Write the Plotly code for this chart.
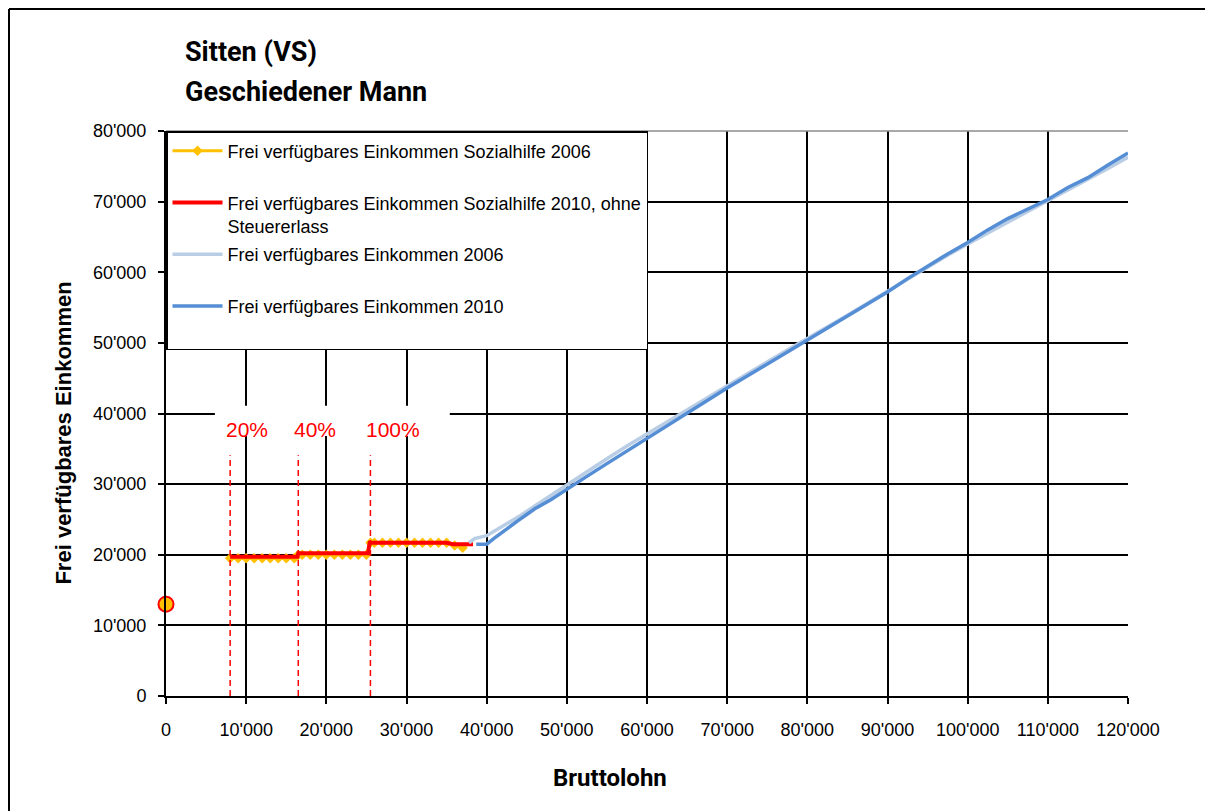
import plotly.graph_objects as go

# ---------------- data ----------------
# Frei verfügbares Einkommen Sozialhilfe 2006
x_sh06 = [8000, 9000, 10000, 11000, 12000, 13000, 14000, 15000, 16000, 16500,
          17000, 18000, 19000, 20000, 21000, 22000, 23000, 24000, 25000, 25500,
          26000, 27000, 28000, 29000, 30000, 31000, 32000, 33000, 34000, 35000,
          36000, 37000]
y_sh06 = [19500, 19500, 19500, 19500, 19500, 19500, 19500, 19500, 19500, 20000,
          20000, 20000, 20000, 20000, 20000, 20000, 20000, 20000, 20000, 21700,
          21700, 21700, 21700, 21700, 21700, 21700, 21700, 21700, 21700, 21700,
          21300, 21000]

# Frei verfügbares Einkommen Sozialhilfe 2010, ohne Steuererlass
x_sh10 = [8000, 16400, 16500, 25200, 25400, 35000, 35800, 38300]
y_sh10 = [19700, 19700, 20200, 20200, 21700, 21700, 21500, 21500]

# Frei verfügbares Einkommen 2006
x_fe06 = [37800, 38500, 40000, 42000, 44000, 46000, 48000, 50000, 52500, 55000,
          57500, 60000, 62500, 65000, 67500, 70000, 72500, 75000, 77500, 80000,
          82500, 85000, 87500, 90000, 92500, 95000, 97500, 100000, 102500, 105000,
          107500, 110000, 112500, 115000, 117500, 120000]
y_fe06 = [21700, 22300, 22700, 24000, 25400, 26900, 28400, 29900, 31800, 33600,
          35400, 37100, 38900, 40600, 42300, 43900, 45600, 47300, 49000, 50600,
          52200, 53900, 55600, 57300, 59100, 60800, 62400, 64000, 65600, 67100,
          68600, 70100, 71600, 73100, 74700, 76300]

# Frei verfügbares Einkommen 2010
x_fe10 = [38700, 40000, 41000, 42500, 44000, 45000, 46000, 48000, 50000, 52500,
          55000, 57500, 60000, 62500, 65000, 67500, 70000, 72500, 75000, 77500,
          80000, 82500, 85000, 87500, 90000, 92500, 95000, 97500, 100000, 102500,
          105000, 107500, 110000, 112500, 115000, 117500, 120000]
y_fe10 = [21500, 21500, 22400, 23700, 24900, 25700, 26500, 27800, 29300, 31100,
          32900, 34700, 36500, 38300, 40100, 41900, 43600, 45300, 47000, 48700,
          50400, 52100, 53700, 55400, 57200, 59100, 60900, 62600, 64200, 66000,
          67600, 69000, 70300, 72000, 73400, 75200, 76900]

# single point at zero income
x_zero = [0]
y_zero = [13000]

# thresholds (Einkommensfreibetrag)
thresholds = [8000, 16500, 25500]
threshold_labels = ["20%", "40%", "100%"]

names = [
    "Frei verfügbares Einkommen Sozialhilfe 2006",
    "Frei verfügbares Einkommen Sozialhilfe 2010, ohne<br>Steuererlass",
    "Frei verfügbares Einkommen 2006",
    "Frei verfügbares Einkommen 2010",
]

# ---------------- figure ----------------
BASE = "Liberation Sans, Arial, sans-serif"
HEAD = "Roboto, DejaVu Sans, sans-serif"

W, H = 1213, 811
ML, MT = 158, 123
PW, PH = 962, 565
MR, MB = W - ML - PW, H - MT - PH

fig = go.Figure()

fig.add_trace(go.Scatter(
    x=x_sh06, y=y_sh06, mode="lines+markers", name=names[0] + "<br> ",
    line=dict(color="#FFC000", width=3),
    marker=dict(symbol="diamond", size=8, color="#FFC000"),
    legendgroup="a"))
fig.add_trace(go.Scatter(
    x=x_sh10, y=y_sh10, mode="lines", name=names[1],
    line=dict(color="#FF0000", width=4), legendgroup="b"))
fig.add_trace(go.Scatter(
    x=x_fe06, y=y_fe06, mode="lines", name=names[2] + "<br> ",
    line=dict(color="#B9CDE5", width=3.5), legendgroup="c"))
fig.add_trace(go.Scatter(
    x=x_fe10, y=y_fe10, mode="lines", name=names[3] + "<br> ",
    line=dict(color="#558ED5", width=3.5), legendgroup="d"))
fig.add_trace(go.Scatter(
    x=x_zero, y=y_zero, mode="markers", showlegend=False,
    marker=dict(symbol="circle", size=15, color="#FFC000",
                line=dict(color="#FF0000", width=2)),
    cliponaxis=False))

shapes = []
# white label box covering the grid behind the percentages
shapes.append(dict(type="rect", xref="x", yref="y", x0=6100, x1=35400,
                   y0=36800, y1=41100, fillcolor="white",
                   line=dict(width=0), layer="above"))
for t in thresholds:
    shapes.append(dict(type="line", xref="x", yref="y", x0=t, x1=t,
                       y0=0, y1=34100,
                       line=dict(color="#FF0000", width=1.5, dash="6px,4px"),
                       layer="above"))
# grey top edge of the plot area
shapes.append(dict(type="line", xref="paper", yref="paper", x0=0, x1=1, y0=1, y1=1,
                   line=dict(color="#8C8C8C", width=1.5), layer="above"))
# outer chart border: left and top edges
XL = (1 - ML) / PW
YT = 1 + (MT - 1) / PH
shapes.append(dict(type="line", xref="paper", yref="paper",
                   x0=XL, x1=XL, y0=-(MB + 5) / PH, y1=YT,
                   line=dict(color="black", width=2)))
shapes.append(dict(type="line", xref="paper", yref="paper",
                   x0=XL, x1=(W + 5 - ML) / PW, y0=YT, y1=YT,
                   line=dict(color="black", width=2)))

annotations = []
for t, lab in zip(thresholds, threshold_labels):
    annotations.append(dict(x=t, y=37700, xref="x", yref="y", text=lab,
                            showarrow=False, xanchor="left", yanchor="middle",
                            xshift=-6, font=dict(family=BASE, size=21, color="#FF0000")))
annotations += [
    dict(x=0.0177, y=1.1398, xref="paper", yref="paper", text="<b>Sitten (VS)</b>",
         showarrow=False, xanchor="left", yanchor="middle",
         font=dict(family=HEAD, size=27, color="black")),
    dict(x=0.0177, y=1.0690, xref="paper", yref="paper", text="<b>Geschiedener Mann</b>",
         showarrow=False, xanchor="left", yanchor="middle",
         font=dict(family=HEAD, size=27, color="black")),
    dict(x=-0.107, y=0.4646, xref="paper", yref="paper",
         text="<b>Frei verfügbares Einkommen</b>", textangle=-90,
         showarrow=False, xanchor="center", yanchor="middle",
         font=dict(family=BASE, size=22, color="black")),
    dict(x=0.4615, y=-0.1451, xref="paper", yref="paper", text="<b>Bruttolohn</b>",
         showarrow=False, xanchor="center", yanchor="middle",
         font=dict(family=HEAD, size=24, color="black")),
]

axis_common = dict(
    showgrid=True, gridcolor="black", gridwidth=1.5,
    showline=True, linecolor="black", linewidth=2,
    ticks="outside", ticklen=6, tickcolor="black", tickwidth=1.5,
    tickfont=dict(family=BASE, size=18, color="black"),
    tickformat=",d", zeroline=False,
)

fig.update_layout(
    width=W, height=H,
    margin=dict(l=ML, r=MR, t=MT, b=MB, autoexpand=False),
    paper_bgcolor="white", plot_bgcolor="white",
    separators=".'",
    xaxis=dict(range=[0, 120000], dtick=10000, tick0=0,
               ticklabelstandoff=10, **axis_common),
    yaxis=dict(range=[0, 80000], dtick=10000, tick0=0,
               ticklabelstandoff=8, **axis_common),
    showlegend=True,
    legend=dict(x=0, y=1, xanchor="left", yanchor="top",
                bgcolor="white", bordercolor="black", borderwidth=1.5,
                font=dict(family=BASE, size=18, color="black"),
                tracegroupgap=2, valign="top", itemwidth=50,
                traceorder="grouped"),
    shapes=shapes,
    annotations=annotations,
)

fig.write_html("out.html")
